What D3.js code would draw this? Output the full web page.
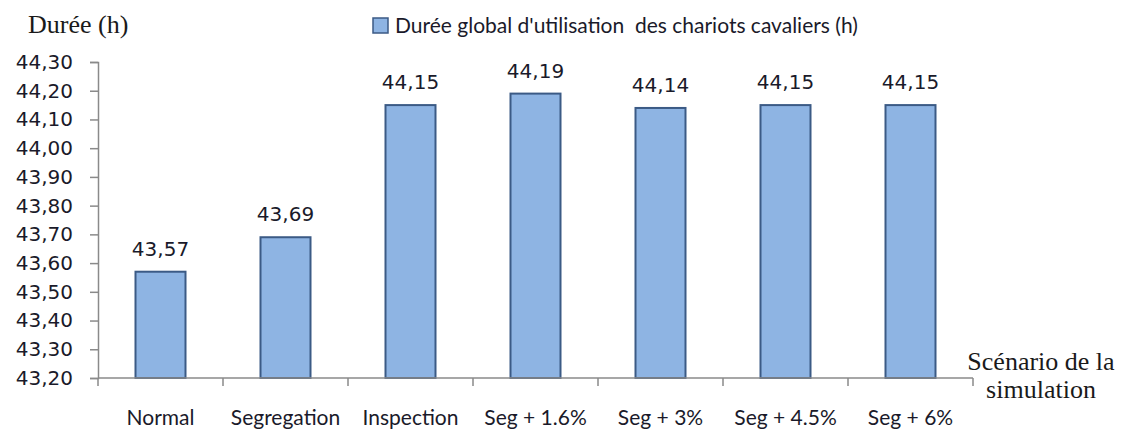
<!DOCTYPE html>
<html>
<head>
<meta charset="utf-8">
<script src="https://cdn.jsdelivr.net/npm/d3@7"></script>
<style>
  html, body { margin: 0; padding: 0; background: #fff; }
  svg { display: block; }
</style>
</head>
<body>
<svg id="chart" width="1121" height="430"></svg>
<script>
// Scenario durations (hours)
const categories = ["Normal", "Segregation", "Inspection", "Seg + 1.6%", "Seg + 3%", "Seg + 4.5%", "Seg + 6%"];
const values = [43.57, 43.69, 44.15, 44.19, 44.14, 44.15, 44.15];
const yTickValues = [43.2, 43.3, 43.4, 43.5, 43.6, 43.7, 43.8, 43.9, 44.0, 44.1, 44.2, 44.3];
const seriesName = "Durée global d'utilisation  des chariots cavaliers (h)";
const yTitle = "Durée (h)";
const xTitleLines = ["Scénario de la", "simulation"];

const fmt = d => d.toFixed(2).replace(".", ",");

const svg = d3.select("#chart");
const plotLeft = 98, plotRight = 973, plotTop = 62, plotBottom = 378;
const axisColor = "#8a8a8a";
const barFill = "#8eb4e3";
const barStroke = "#3b5a85";

const x = d3.scaleBand()
  .domain(categories)
  .range([plotLeft, plotRight])
  .paddingInner(0.6)
  .paddingOuter(0.3);

const y = d3.scaleLinear()
  .domain([yTickValues[0], yTickValues[yTickValues.length - 1]])
  .range([plotBottom, plotTop]);

// Y axis
const yAxis = svg.append("g")
  .attr("transform", `translate(${plotLeft},0)`)
  .call(d3.axisLeft(y).tickValues(yTickValues).tickFormat(fmt).tickSize(8).tickPadding(17));
yAxis.select(".domain").attr("stroke", axisColor).attr("stroke-width", 1.5);
yAxis.selectAll(".tick line").attr("stroke", axisColor).attr("stroke-width", 1.5);
yAxis.selectAll(".tick text")
  .attr("font-family", "DejaVu Sans")
  .attr("font-size", 20)
  .attr("fill", "#1a1a2a");

// Bars
svg.append("g").selectAll("rect")
  .data(values)
  .join("rect")
  .attr("x", (d, i) => x(categories[i]))
  .attr("y", d => y(d))
  .attr("width", x.bandwidth())
  .attr("height", d => y(yTickValues[0]) - y(d))
  .attr("fill", barFill)
  .attr("stroke", barStroke)
  .attr("stroke-width", 2);

// Value labels
svg.append("g").selectAll("text")
  .data(values)
  .join("text")
  .attr("x", (d, i) => x(categories[i]) + x.bandwidth() / 2)
  .attr("y", d => y(d) - 16)
  .attr("text-anchor", "middle")
  .attr("font-family", "DejaVu Sans")
  .attr("font-size", 20)
  .attr("fill", "#1a1a2a")
  .text(fmt);

// X axis: category labels, ticks on category boundaries
const xAxis = svg.append("g")
  .attr("transform", `translate(0,${plotBottom})`)
  .call(d3.axisBottom(x).tickSize(0).tickPadding(0));
xAxis.select(".domain").remove();
xAxis.selectAll(".tick text")
  .attr("y", 47)
  .attr("dy", 0)
  .attr("font-family", "Lato")
  .attr("font-size", 21)
  .attr("fill", "#1a1a2a");

const bounds = d3.range(categories.length + 1).map(i => plotLeft + i * x.step());
svg.append("line")
  .attr("x1", plotLeft).attr("x2", plotRight)
  .attr("y1", plotBottom).attr("y2", plotBottom)
  .attr("stroke", axisColor).attr("stroke-width", 1.5);
svg.append("g").selectAll("line")
  .data(bounds)
  .join("line")
  .attr("x1", d => d).attr("x2", d => d)
  .attr("y1", plotBottom).attr("y2", plotBottom + 8)
  .attr("stroke", axisColor).attr("stroke-width", 1.5);

// Axis titles
svg.append("text")
  .attr("x", 28).attr("y", 33)
  .attr("font-family", "Liberation Serif")
  .attr("font-size", 26)
  .attr("fill", "#1a1a1a")
  .text(yTitle);

svg.append("text")
  .attr("x", 1041).attr("y", 370)
  .attr("text-anchor", "middle")
  .attr("font-family", "Liberation Serif")
  .attr("font-size", 26)
  .attr("fill", "#1a1a1a")
  .selectAll("tspan")
  .data(xTitleLines)
  .join("tspan")
  .attr("x", 1041)
  .attr("dy", (d, i) => i === 0 ? 0 : 28)
  .text(d => d);

// Legend
const legend = svg.append("g");
legend.append("rect")
  .attr("x", 373).attr("y", 18)
  .attr("width", 15).attr("height", 15)
  .attr("fill", barFill)
  .attr("stroke", barStroke)
  .attr("stroke-width", 1.5);
legend.append("text")
  .attr("x", 395).attr("y", 33)
  .attr("font-family", "Lato")
  .attr("font-size", 21)
  .attr("fill", "#1a1a2a")
  .attr("xml:space", "preserve")
  .style("white-space", "pre")
  .text(seriesName);
</script>
</body>
</html>
